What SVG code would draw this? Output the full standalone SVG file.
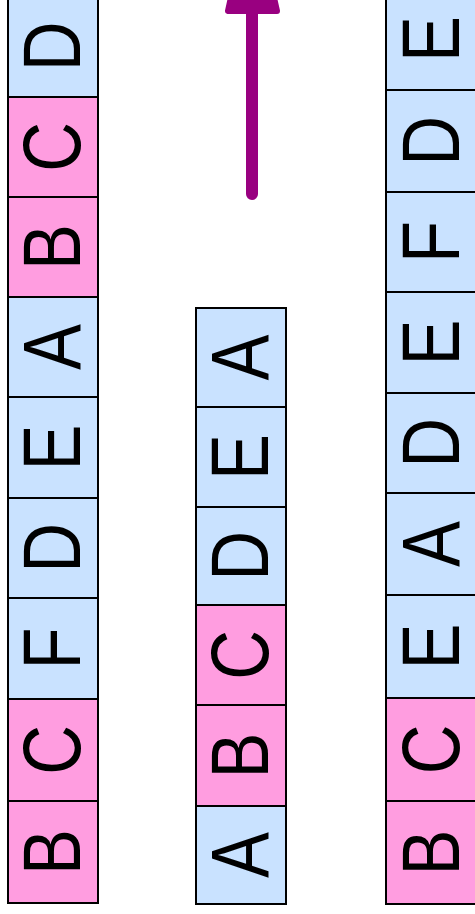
<svg xmlns="http://www.w3.org/2000/svg" width="475" height="914" viewBox="0 0 475 914">
<style>
.b{fill:#c9e2ff;stroke:#000;stroke-width:2}
.p{fill:#ff9de0;stroke:#000;stroke-width:2}
.t{font-family:"Liberation Sans",Arial,sans-serif;font-size:81px;fill:#000;text-anchor:middle}
.arr{stroke:#990080;stroke-width:12;stroke-linecap:round;fill:none}
.head{fill:#990080;stroke:#990080;stroke-width:6;stroke-linejoin:round}
</style>
<g id="left">
<g id="L1"><rect class="b" x="8" y="-4" width="90" height="101"/><text class="t" transform="translate(80,46.5) rotate(-90) scale(0.85,1)">D</text></g>
<g id="L2"><rect class="p" x="8" y="97" width="90" height="100"/><text class="t" transform="translate(80,147) rotate(-90) scale(0.85,1)">C</text></g>
<g id="L3"><rect class="p" x="8" y="197" width="90" height="100"/><text class="t" transform="translate(80,247) rotate(-90) scale(0.85,1)">B</text></g>
<g id="L4"><rect class="b" x="8" y="297" width="90" height="100"/><text class="t" transform="translate(80,347) rotate(-90) scale(0.85,1)">A</text></g>
<g id="L5"><rect class="b" x="8" y="397" width="90" height="101"/><text class="t" transform="translate(80,447.5) rotate(-90) scale(0.85,1)">E</text></g>
<g id="L6"><rect class="b" x="8" y="498" width="90" height="100"/><text class="t" transform="translate(80,548) rotate(-90) scale(0.85,1)">D</text></g>
<g id="L7"><rect class="b" x="8" y="598" width="90" height="101"/><text class="t" transform="translate(80,648.5) rotate(-90) scale(0.85,1)">F</text></g>
<g id="L8"><rect class="p" x="8" y="699" width="90" height="102"/><text class="t" transform="translate(80,750) rotate(-90) scale(0.85,1)">C</text></g>
<g id="L9"><rect class="p" x="8" y="801" width="90" height="102"/><text class="t" transform="translate(80,852) rotate(-90) scale(0.85,1)">B</text></g>
</g>
<g id="middle">
<g id="M1"><rect class="b" x="196" y="308" width="90" height="99"/><text class="t" transform="translate(268,357.5) rotate(-90) scale(0.85,1)">A</text></g>
<g id="M2"><rect class="b" x="196" y="407" width="90" height="100"/><text class="t" transform="translate(268,457) rotate(-90) scale(0.85,1)">E</text></g>
<g id="M3"><rect class="b" x="196" y="507" width="90" height="98"/><text class="t" transform="translate(268,556) rotate(-90) scale(0.85,1)">D</text></g>
<g id="M4"><rect class="p" x="196" y="605" width="90" height="100"/><text class="t" transform="translate(268,655) rotate(-90) scale(0.85,1)">C</text></g>
<g id="M5"><rect class="p" x="196" y="705" width="90" height="101"/><text class="t" transform="translate(268,755.5) rotate(-90) scale(0.85,1)">B</text></g>
<g id="M6"><rect class="b" x="196" y="806" width="90" height="98"/><text class="t" transform="translate(268,855) rotate(-90) scale(0.85,1)">A</text></g>
</g>
<g id="right">
<g id="R1"><rect class="b" x="386" y="-12" width="90" height="102"/><text class="t" transform="translate(459,39) rotate(-90) scale(0.85,1)">E</text></g>
<g id="R2"><rect class="b" x="386" y="90" width="90" height="102"/><text class="t" transform="translate(459,141) rotate(-90) scale(0.85,1)">D</text></g>
<g id="R3"><rect class="b" x="386" y="192" width="90" height="100"/><text class="t" transform="translate(459,242) rotate(-90) scale(0.85,1)">F</text></g>
<g id="R4"><rect class="b" x="386" y="292" width="90" height="101"/><text class="t" transform="translate(459,342.5) rotate(-90) scale(0.85,1)">E</text></g>
<g id="R5"><rect class="b" x="386" y="393" width="90" height="100"/><text class="t" transform="translate(459,443) rotate(-90) scale(0.85,1)">D</text></g>
<g id="R6"><rect class="b" x="386" y="493" width="90" height="102"/><text class="t" transform="translate(459,544) rotate(-90) scale(0.85,1)">A</text></g>
<g id="R7"><rect class="b" x="386" y="595" width="90" height="103"/><text class="t" transform="translate(459,646.5) rotate(-90) scale(0.85,1)">E</text></g>
<g id="R8"><rect class="p" x="386" y="698" width="90" height="103"/><text class="t" transform="translate(459,749.5) rotate(-90) scale(0.85,1)">C</text></g>
<g id="R9"><rect class="p" x="386" y="801" width="90" height="103"/><text class="t" transform="translate(459,852.5) rotate(-90) scale(0.85,1)">B</text></g>
</g>
<g id="connectors">
<line class="arr" x1="252" y1="194" x2="252" y2="14"/>
<polygon class="head" points="228,11 277,11 252,-100"/>
</g>
</svg>
